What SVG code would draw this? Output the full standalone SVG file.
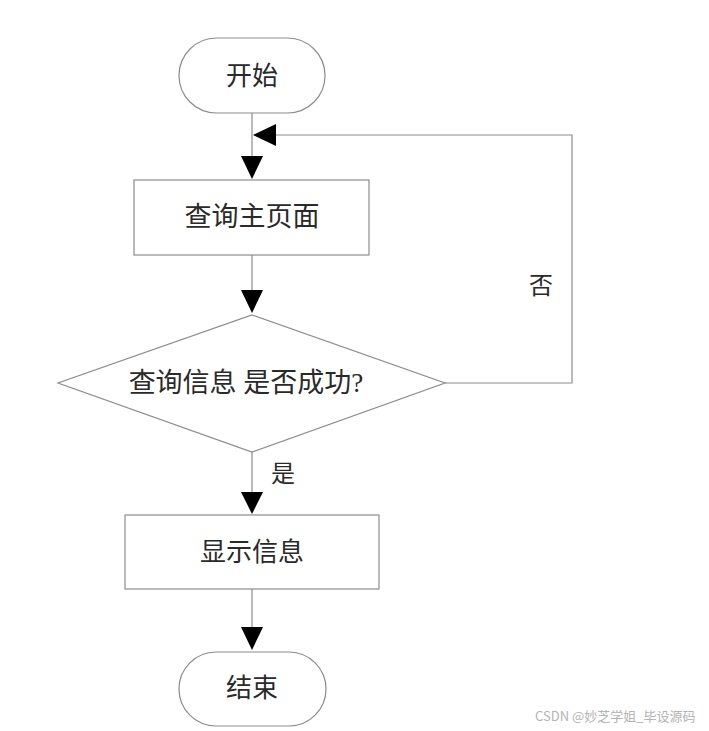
<svg xmlns="http://www.w3.org/2000/svg" width="709" height="731" viewBox="0 0 709 731">
<defs>
<style>
.shape{fill:#ffffff;stroke:#8c8c8c;stroke-width:1.2}
.line{fill:none;stroke:#8c8c8c;stroke-width:1.2}
.head{fill:#000000;stroke:none}
.t{font-family:"Liberation Serif","Noto Sans CJK SC",serif;font-size:26px;fill:#2a2a2a;text-anchor:middle;dominant-baseline:central}
.wm{font-family:"Noto Sans CJK SC","Liberation Sans",sans-serif;font-size:13px;fill:#b3b3b3}
</style>
</defs>
<rect width="709" height="731" fill="#ffffff"/>
<g id="connectors">
<line class="line" x1="252" y1="113" x2="252" y2="158"/>
<polygon class="head" points="241,156 263,156 252,179"/>
<line class="line" x1="252" y1="255" x2="252" y2="292"/>
<polygon class="head" points="241,290 263,290 252,313"/>
<polyline class="line" points="445,383 572,383 572,135 274,135"/>
<polygon class="head" points="276,124 276,146 253,135"/>
<line class="line" x1="252" y1="452" x2="252" y2="494"/>
<polygon class="head" points="241,492 263,492 252,514"/>
<line class="line" x1="252" y1="589" x2="252" y2="629"/>
<polygon class="head" points="241,627 263,627 252,650"/>
<text class="t" x="541" y="286" style="font-size:24px">否</text>
<text class="t" x="283" y="474" style="font-size:24px">是</text>
</g>
<g id="start">
<rect class="shape" x="179" y="38" width="146" height="75" rx="37.5" ry="37.5"/>
<text class="t" x="252" y="76">开始</text>
</g>
<g id="main">
<rect class="shape" x="134" y="180" width="235" height="75"/>
<text class="t" x="252" y="217" style="font-size:27px">查询主页面</text>
</g>
<g id="decision">
<polygon class="shape" points="252,315 445,383 252,452 58,383"/>
<text class="t" x="246" y="383" style="font-size:27px">查询信息 是否成功?</text>
</g>
<g id="show">
<rect class="shape" x="125" y="515" width="254" height="74"/>
<text class="t" x="252" y="552">显示信息</text>
</g>
<g id="end">
<rect class="shape" x="179" y="652" width="147" height="74" rx="37" ry="37"/>
<text class="t" x="252" y="688">结束</text>
</g>
<text class="wm" x="535" y="721">CSDN @妙芝学姐_毕设源码</text>
</svg>
